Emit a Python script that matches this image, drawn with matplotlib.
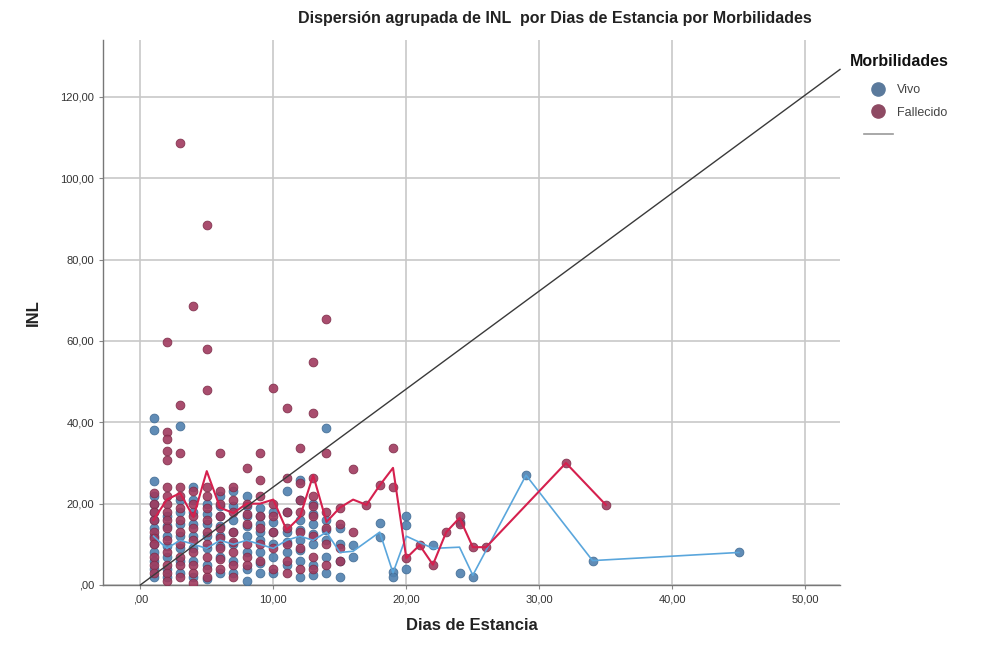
import matplotlib
matplotlib.use('Agg')
import matplotlib.pyplot as plt
from matplotlib.lines import Line2D
import numpy as np

plt.rcParams['font.family'] = ['Liberation Sans', 'DejaVu Sans']

# Points: INL values per day of stay, by group
vivo_points = {
    1: [41, 38, 25.5, 22, 20, 18, 16, 14, 12, 10, 8, 6, 4, 2],
    2: [17, 14.5, 12, 9.5, 7, 4, 2],
    3: [39, 21, 18, 15, 12, 9, 6, 3],
    4: [24, 21, 18, 15, 12, 9, 6, 2],
    5: [20, 17.5, 15, 12, 9, 5, 1.5],
    6: [22, 19.5, 17, 14.5, 12, 9.5, 7, 3],
    7: [23, 19.5, 16, 13, 10, 6, 3],
    8: [22, 19.5, 17, 14.5, 12, 8, 4, 1],
    9: [19, 17, 15, 13, 11, 8, 5.5, 3],
    10: [18, 15.5, 13, 10, 7, 3],
    11: [23, 18, 13, 10.5, 8, 5],
    12: [25.8, 21, 16, 13.5, 11, 8.5, 6, 2],
    13: [20, 17.5, 15, 12.5, 10, 5, 2.5],
    14: [38.5, 16, 13.5, 11, 7, 3],
    15: [14, 10, 6, 2],
    16: [9.8, 7],
    18: [15.2, 11.8],
    19: [3.2, 2],
    20: [17, 14.7, 4],
    22: [9.8],
    24: [15.5, 3],
    25: [2],
    29: [27],
    34: [6],
    45: [8],
}
fallecido_points = {
    1: [22.5, 20, 18, 16, 13, 11.5, 10, 7, 5, 3],
    2: [59.7, 37.5, 36, 33, 30.7, 24, 22, 20, 18, 16, 14, 11, 8, 5, 3, 1],
    3: [108.6, 44.2, 32.4, 24, 22, 19, 16, 13, 10, 7, 5, 2],
    4: [68.5, 23, 20, 17, 14, 11, 8, 5, 3, 0.5],
    5: [88.5, 58, 48, 24, 22, 19, 16, 13, 10, 7, 4, 2],
    6: [32.4, 23, 20, 17, 14, 11.5, 9, 6.5, 4],
    7: [24, 21, 18, 13, 10.5, 8, 5, 2],
    8: [28.7, 20, 17.5, 15, 10, 7, 5],
    9: [32.4, 25.8, 22, 17, 14, 10, 6],
    10: [48.4, 20, 17, 13, 9, 4],
    11: [43.5, 26.3, 18, 14, 10, 6, 3],
    12: [33.6, 25, 21, 18, 13, 9, 4],
    13: [54.8, 42.3, 26.3, 22, 19.5, 17, 12, 7, 4],
    14: [65.4, 32.4, 18, 14, 10, 5],
    15: [19, 15, 9, 6],
    16: [28.5, 13],
    17: [19.7],
    18: [24.5],
    19: [33.7, 24],
    20: [6.6],
    21: [9.8],
    22: [5],
    23: [13],
    24: [17, 15],
    25: [9.3],
    26: [9.3],
    32: [30],
    35: [19.7],
}

# Mean lines per day (as drawn in the picture)
vivo_line_days = [1, 2, 3, 4, 5, 6, 7, 8, 9, 10, 11, 12, 13, 14, 15, 16, 18, 19, 20, 22, 24, 25, 29, 34, 45]
vivo_line_inl = [12, 9, 11, 10, 9, 11, 10, 11, 10, 9, 11, 12, 11, 13, 8, 8.3, 13, 3, 12, 9, 9.3, 2.4, 27, 6, 8]
fall_line_days = [1, 2, 3, 4, 5, 6, 7, 8, 9, 10, 11, 12, 13, 14, 15, 16, 17, 18, 19, 20, 21, 22, 23, 24, 25, 26, 32, 35]
fall_line_inl = [16, 21, 22.6, 16.7, 28, 19, 17.7, 20, 20, 21, 13.5, 16.7, 27, 15.5, 19, 21, 19.7, 24.5, 28.8, 6.6, 9.8, 5, 13, 16.5, 9.3, 9.3, 30, 19.7]

# Reference line
ref_intercept = 0.0
ref_slope = 2.41

x_ticks = [0, 10, 20, 30, 40, 50]
x_tick_labels = [',00', '10,00', '20,00', '30,00', '40,00', '50,00']
y_ticks = [0, 20, 40, 60, 80, 100, 120]
y_tick_labels = [',00', '20,00', '40,00', '60,00', '80,00', '100,00', '120,00']


def flatten(d):
    xs, ys = [], []
    for k, vals in d.items():
        xs += [k] * len(vals)
        ys += vals
    return np.array(xs, float), np.array(ys, float)


blue_pt = '#4F80AE'
red_pt = '#A03A5E'
blue_ln = '#5AA6DC'
red_ln = '#D5204E'

fig = plt.figure(figsize=(9.84, 6.5), dpi=100)
ax = fig.add_axes([103 / 984, 1 - 585 / 650, (840 - 103) / 984, (585 - 40) / 650])

ax.set_xlim(-2.8, 52.6)
ax.set_ylim(0, 134)

ax.set_xticks(x_ticks)
ax.set_xticklabels(x_tick_labels)
ax.set_yticks(y_ticks)
ax.set_yticklabels(y_tick_labels)
ax.tick_params(labelsize=8, colors='#333333', length=3, color='#888888')
ax.grid(True, color='#c8c8c8', linewidth=1.2)
ax.set_axisbelow(True)
for s in ['top', 'right']:
    ax.spines[s].set_visible(False)
for s in ['left', 'bottom']:
    ax.spines[s].set_color('#777777')
    ax.spines[s].set_linewidth(1.0)

vx, vy = flatten(vivo_points)
fx, fy = flatten(fallecido_points)
ax.scatter(vx, vy, s=40, color=blue_pt, edgecolor='#3f6a93', linewidth=0.6, alpha=0.9, zorder=3)
ax.scatter(fx, fy, s=40, color=red_pt, edgecolor='#7e2c49', linewidth=0.6, alpha=0.9, zorder=4)

ax.plot(vivo_line_days, vivo_line_inl, color=blue_ln, linewidth=1.2, zorder=5)
ax.plot(fall_line_days, fall_line_inl, color=red_ln, linewidth=1.5, zorder=6)

xr = np.array([0, 52.6])
ax.plot(xr, ref_intercept + ref_slope * xr, color='#3a3a3a', linewidth=1.0, zorder=7, clip_on=False)

ax.set_xlabel('Dias de Estancia', fontsize=12, fontweight='bold', color='#222222', labelpad=10)
ax.set_ylabel('INL', fontsize=12, fontweight='bold', color='#222222', labelpad=14)

fig.text(0.564, 0.972, 'Dispersión agrupada de INL  por Dias de Estancia por Morbilidades',
         ha='center', va='center', fontsize=11.5, fontweight='bold', color='#222222')

# Legend: title as its own text, entries indented under it
fig.text(850 / 984, 1 - 61 / 650, 'Morbilidades', ha='left', va='center',
         fontsize=11.5, fontweight='bold', color='#111111')
handles = [
    Line2D([], [], marker='o', linestyle='', markersize=9.5, markerfacecolor='#5B7A9C', markeredgecolor='#5B7A9C'),
    Line2D([], [], marker='o', linestyle='', markersize=9.5, markerfacecolor='#8E4A63', markeredgecolor='#8E4A63'),
    Line2D([], [], color='#9a9a9a', linewidth=1.2),
]
leg = fig.legend(handles, ['Vivo', 'Fallecido', ''],
                 loc='upper left', bbox_to_anchor=(864 / 984, 1 - 84 / 650), frameon=False,
                 fontsize=9, handlelength=2.3, handletextpad=0.3, labelspacing=0.85,
                 borderpad=0.0, borderaxespad=0.0)
for t in leg.get_texts():
    t.set_color('#444444')

fig.savefig('out.png', dpi=100)
